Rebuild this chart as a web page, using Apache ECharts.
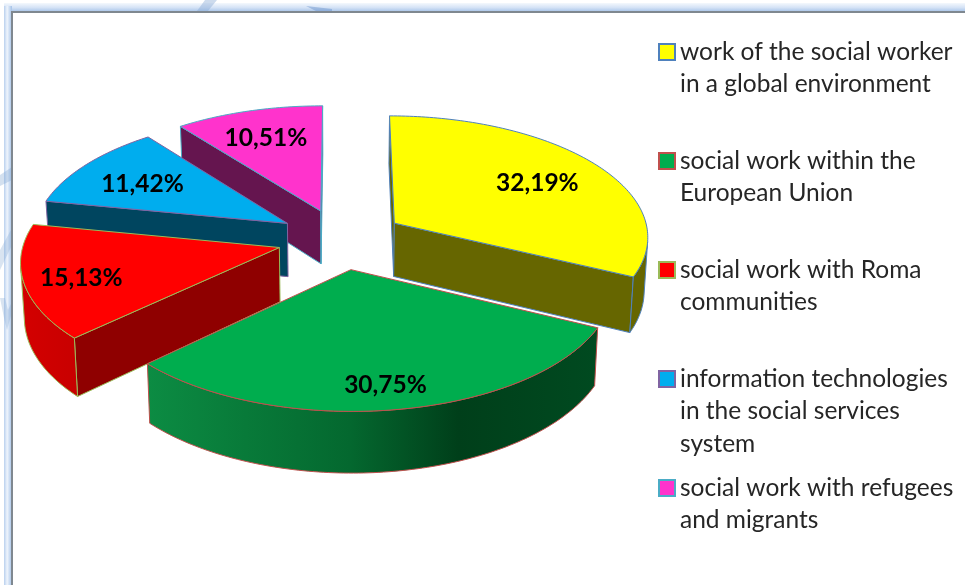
<!DOCTYPE html>
<html>
<head>
<meta charset="utf-8">
<style>
  html, body { margin: 0; padding: 0; background: #fff; }
  #chart { width: 965px; height: 585px; }
</style>
<script src="https://cdn.jsdelivr.net/npm/echarts@6/dist/echarts.min.js"></script>
</head>
<body>
<div id="chart"></div>
<script>
// Topics of the survey and their share of answers, in percent.
const categories = [
  'work of the social worker in a global environment',
  'social work within the European Union',
  'social work with Roma communities',
  'information technologies in the social services system',
  'social work with refugees and migrants'
];
const shares = [32.19, 30.75, 15.13, 11.42, 10.51];

// Wrapped legend wording, one entry per category.
const legendLines = [
  ['work of the social worker', 'in a global environment'],
  ['social work within the', 'European Union'],
  ['social work with Roma', 'communities'],
  ['information technologies', 'in the social services', 'system'],
  ['social work with refugees', 'and migrants']
];

// Slice styling.
const topColors = ['#ffff00', '#00ad4e', '#ff0000', '#00adee', '#ff33cc'];
const cutColors = ['#666600', '#004a20', '#8f0000', '#00455f', '#65154f'];
const edgeColors = ['#4f81bd', '#c0504d', '#9bbb59', '#8064a2', '#4bacc6'];
const wallStops = [
  [[0, '#666600'], [1, '#666600']],
  [[0, '#0c8c43'], [0.22, '#087a39'], [0.45, '#04682f'], [0.69, '#003f1a'], [1, '#004a20']],
  [[0, '#d40000'], [1, '#c80000']],
  [[0, '#00455f'], [1, '#00455f']],
  [[0, '#65154f'], [1, '#65154f']]
];
// Paint depth of each slice: larger values sit in front.
const seriesDepth = [2, 4, 3, 1, 0];
// Distance of each value label along its slice's bisector (1 = rim), plus a pixel nudge.
const labelReach = [0.72, 0.84, 0.78, 0.70, 0.70];
const labelNudge = [[-3, 3], [-3, 0], [0, 3], [-2, 2], [-3, -1]];

// Perspective camera for the tilted pie.
const view = { cx: 341, cy: 239, rx: 255, ry: 121, persp: 0.1, explode: 0.25, depth: 54, taper: 0.012 };

const DEG = Math.PI / 180;
const total = shares.reduce((a, b) => a + b, 0);
const startAngle = shares.map((_, i) =>
  shares.slice(0, i).reduce((a, b) => a + b, 0) / total * 360);

// Projects pie-plane coordinates (unit radius, Y pointing away) to pixels; lower = on the rim below the top face.
function project(X, Y, lower) {
  const s = 1 / (1 + view.persp * Y);
  const t = lower ? 1 - view.taper : 1;
  return [
    view.cx + view.rx * X * s * t,
    view.cy - view.ry * Y * s + (lower ? view.depth * s : 0)
  ];
}

function shoelace(pts) {
  let sum = 0;
  pts.forEach((p, i) => {
    const q = pts[(i + 1) % pts.length];
    sum += p[0] * q[1] - q[0] * p[1];
  });
  return sum;
}

function renderSlice(params, api) {
  const i = params.seriesIndex;
  const sweep = api.value(0) / total * 360;
  const a0 = startAngle[i];
  const mid = (a0 + sweep / 2) * DEG;
  const ox = view.explode * Math.sin(mid);
  const oy = view.explode * Math.cos(mid);
  const rim = (deg, lower) => project(ox + Math.sin(deg * DEG), oy + Math.cos(deg * DEG), lower);
  const apexTop = project(ox, oy, false);
  const apexLow = project(ox, oy, true);

  const children = [];
  const edge = { stroke: edgeColors[i], lineWidth: 1 };

  // Flat cut faces, kept only when they turn towards the viewer.
  const cut = (a, b, aLow, bLow) => {
    const quad = [a, b, bLow, aLow];
    if (shoelace(quad) < 0) {
      children.push({ type: 'polygon', shape: { points: quad },
        style: Object.assign({ fill: cutColors[i] }, edge) });
    }
  };
  cut(apexTop, rim(a0, false), apexLow, rim(a0, true));
  cut(rim(a0 + sweep, false), apexTop, rim(a0 + sweep, true), apexLow);

  // Curved outer wall: runs of rim segments that face the viewer.
  const steps = Math.ceil(sweep);
  let run = [];
  const flush = () => {
    if (run.length > 1) {
      const pts = run.map(d => rim(d, false)).concat(run.slice().reverse().map(d => rim(d, true)));
      children.push({ type: 'polygon', shape: { points: pts },
        style: Object.assign({
          fill: new echarts.graphic.LinearGradient(0, 0, 1, 0,
            wallStops[i].map(s => ({ offset: s[0], color: s[1] })))
        }, edge) });
    }
    run = [];
  };
  for (let k = 0; k < steps; k++) {
    const d1 = a0 + sweep * k / steps;
    const d2 = a0 + sweep * (k + 1) / steps;
    const seg = [rim(d1, false), rim(d2, false), rim(d2, true), rim(d1, true)];
    if (shoelace(seg) < 0) {
      if (!run.length) run.push(d1);
      run.push(d2);
    } else {
      flush();
    }
  }
  flush();

  // Top face.
  const top = [apexTop];
  for (let k = 0; k <= steps; k++) top.push(rim(a0 + sweep * k / steps, false));
  children.push({ type: 'polygon', shape: { points: top },
    style: Object.assign({ fill: topColors[i] }, edge) });

  // Value label.
  const at = project(ox + labelReach[i] * Math.sin(mid), oy + labelReach[i] * Math.cos(mid), false);
  children.push({
    type: 'text',
    style: {
      text: api.value(0).toFixed(2).replace('.', ',') + '%',
      x: at[0] + labelNudge[i][0], y: at[1] + labelNudge[i][1],
      align: 'center', verticalAlign: 'middle',
      font: 'bold 24.5px Lato', fill: '#000'
    }
  });
  return { type: 'group', children };
}

const lineGap = 32.5;
const firstLineY = [52, 161, 270, 379, 488];

const chart = echarts.init(document.getElementById('chart'), null, { renderer: 'canvas' });
chart.setOption({
  animation: false,
  backgroundColor: '#ffffff',
  // Slide frame and faint backdrop strokes around the chart area.
  graphic: [
    { type: 'rect', z: -5, shape: { x: 4, y: 3, width: 961, height: 9 },
      style: { fill: new echarts.graphic.LinearGradient(0, 0, 0, 1, [
        { offset: 0, color: '#f4f8fd' }, { offset: 0.5, color: '#d5e3f6' }, { offset: 1, color: '#a4c2e8' }]) } },
    { type: 'rect', z: -5, shape: { x: 4, y: 6, width: 8, height: 579 },
      style: { fill: new echarts.graphic.LinearGradient(0, 0, 1, 0, [
        { offset: 0, color: '#b9d0ee' }, { offset: 0.4, color: '#eef4fc' }, { offset: 1, color: '#a4c2e8' }]) } },
    { type: 'polygon', z: -4, shape: { points: [[0, 175], [12, 167], [12, 180], [0, 186]] }, style: { fill: 'rgba(130,165,210,0.35)' } },
    { type: 'polygon', z: -4, shape: { points: [[0, 250], [12, 228], [12, 245], [0, 270]] }, style: { fill: 'rgba(130,165,210,0.3)' } },
    { type: 'polygon', z: -4, shape: { points: [[0, 298], [5, 298], [8, 310], [12, 302], [12, 312], [7, 330], [4, 318]] }, style: { fill: 'rgba(130,165,210,0.3)' } },
    { type: 'polygon', z: -4, shape: { points: [[197, 11], [205, 0], [217, 0], [208, 11]] }, style: { fill: 'rgba(130,165,210,0.4)' } },
    { type: 'polygon', z: -4, shape: { points: [[306, 6], [332, 9], [332, 11], [316, 11]] }, style: { fill: 'rgba(110,150,205,0.5)' } },
    { type: 'rect', z: -3, shape: { x: 11, y: 11, width: 954, height: 2 }, style: { fill: '#7f8890' } },
    { type: 'rect', z: -3, shape: { x: 11, y: 11, width: 2, height: 574 }, style: { fill: '#7f8890' } }
  ],
  legend: categories.map((name, i) => {
    const n = legendLines[i].length;
    return {
      data: [name],
      orient: 'vertical',
      left: 658,
      top: firstLineY[i] - (2 * n - 1) * lineGap / 2,
      padding: 0,
      icon: 'rect',
      itemWidth: 16,
      itemHeight: 16,
      selectedMode: false,
      itemStyle: { color: topColors[i], borderColor: edgeColors[i], borderWidth: 2 },
      // Blank leading lines keep the swatch level with the first line of wording.
      formatter: () => '\n'.repeat(n - 1) + legendLines[i].join('\n'),
      textStyle: {
        fontFamily: 'Lato', fontSize: 24.5, color: '#262626', lineHeight: lineGap
      }
    };
  }),
  series: categories.map((name, i) => ({
    type: 'custom',
    name,
    coordinateSystem: 'none',
    z: 2 + seriesDepth[i],
    itemStyle: { color: topColors[i] },
    renderItem: renderSlice,
    data: [[shares[i]]],
    silent: true
  }))
});
</script>
</body>
</html>
